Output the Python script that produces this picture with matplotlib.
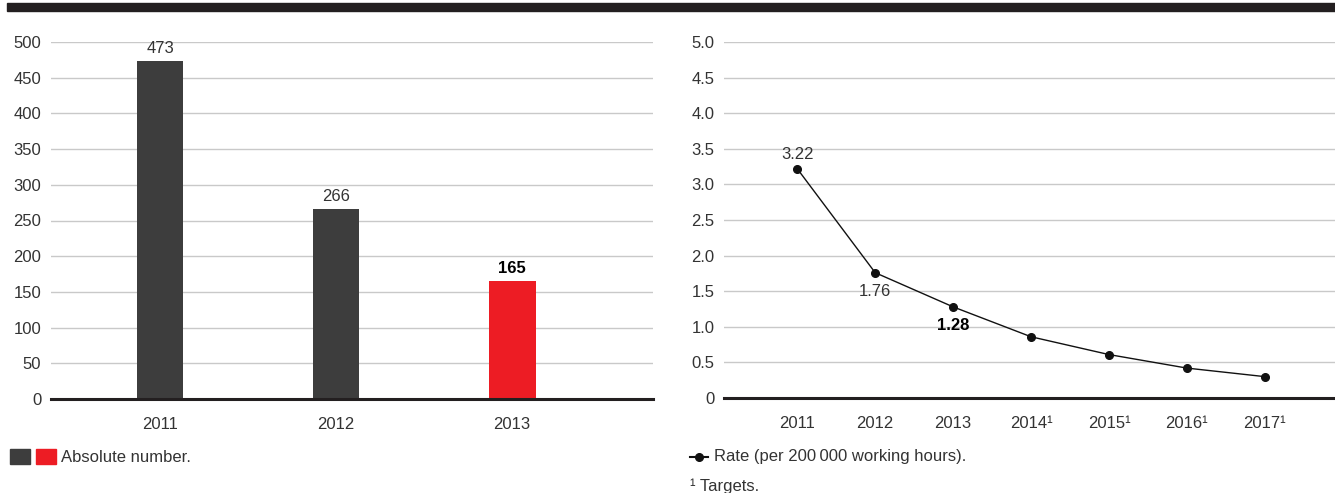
import matplotlib.pyplot as plt
from matplotlib.patches import Rectangle
from matplotlib.lines import Line2D

plt.rcParams['font.family'] = ['Liberation Sans', 'DejaVu Sans']

# injuries, absolute number
bar_years = ['2011', '2012', '2013']
bar_values = [473, 266, 165]
bar_colors = ['#3d3d3d', '#3d3d3d', '#ed1c24']

# rate per 200 000 working hours (2014-2017 are targets)
rate_years = ['2011', '2012', '2013', '2014¹', '2015¹', '2016¹', '2017¹']
rate_values = [3.22, 1.76, 1.28, 0.86, 0.61, 0.42, 0.30]

W, H = 1335, 493
fig = plt.figure(figsize=(W / 100, H / 100), dpi=100)

txt = '#333333'
grid_c = '#c9c9c9'
fs = 12

# heavy rule across the top
fig.patches.append(Rectangle((7 / W, 1 - 11 / H), 1 - 7 / W, 8 / H,
                             transform=fig.transFigure, color='#231f20', zorder=0))


def style(ax, yticks, ylabels):
    ax.set_yticks(yticks)
    ax.set_yticklabels(ylabels)
    ax.yaxis.grid(True, color=grid_c, lw=1)
    ax.set_axisbelow(True)
    for s in ['top', 'right', 'left']:
        ax.spines[s].set_visible(False)
    ax.spines['bottom'].set_color('#231f20')
    ax.spines['bottom'].set_linewidth(2.2)
    ax.tick_params(axis='both', length=0, labelsize=fs, colors=txt)
    ax.tick_params(axis='y', pad=7)
    ax.tick_params(axis='x', pad=13)


# left: bars
ax1 = fig.add_axes([51 / W, 1 - 399 / H, 602 / W, 357 / H])
xs = range(len(bar_years))
ax1.bar(xs, bar_values, width=0.265, color=bar_colors, zorder=2)
ax1.set_xlim(-0.62, 2.8)
ax1.set_ylim(0, 500)
ax1.set_xticks(list(xs))
ax1.set_xticklabels(bar_years)
style(ax1, range(0, 501, 50), [str(v) for v in range(0, 501, 50)])
for i, v in enumerate(bar_values):
    last = i == len(bar_values) - 1
    ax1.annotate(str(v), (i, v), xytext=(0, 4), textcoords='offset points',
                 ha='center', va='bottom', fontsize=fs, color='#000000' if last else txt,
                 fontweight='bold' if last else 'normal')

# right: rate line
ax2 = fig.add_axes([724 / W, 1 - 398 / H, 611 / W, 356 / H])
xr = range(len(rate_years))
ax2.plot(xr, rate_values, color='#111111', lw=1, marker='o', ms=5.5, zorder=3,
         clip_on=False)
ax2.set_xlim(-0.94, 6.9)
ax2.set_ylim(0, 5)
ax2.set_xticks(list(xr))
ax2.set_xticklabels(rate_years)
yt = [i * 0.5 for i in range(11)]
style(ax2, yt, ['0'] + ['%.1f' % v for v in yt[1:]])

ax2.annotate('%.2f' % rate_values[0], (0, rate_values[0]), xytext=(0, 5),
             textcoords='offset points', ha='center', va='bottom', fontsize=fs, color=txt)
ax2.annotate('%.2f' % rate_values[1], (1, rate_values[1]), xytext=(0, -8),
             textcoords='offset points', ha='center', va='top', fontsize=fs, color=txt)
ax2.annotate('%.2f' % rate_values[2], (2, rate_values[2]), xytext=(0, -8),
             textcoords='offset points', ha='center', va='top', fontsize=fs,
             color='#000000', fontweight='bold')

# legends
fig.patches.append(Rectangle((10 / W, 1 - 464 / H), 20 / W, 15 / H,
                             transform=fig.transFigure, color=bar_colors[0]))
fig.patches.append(Rectangle((36 / W, 1 - 464 / H), 20 / W, 15 / H,
                             transform=fig.transFigure, color=bar_colors[2]))
fig.text(61 / W, 1 - 457 / H, 'Absolute number.', fontsize=fs, color=txt, va='center')

fig.lines.append(Line2D([690 / W, 708 / W], [1 - 457 / H, 1 - 457 / H],
                        transform=fig.transFigure, color='#111111', lw=1.5))
fig.lines.append(Line2D([699 / W], [1 - 457 / H], transform=fig.transFigure,
                        marker='o', ms=5.5, color='#111111'))
fig.text(714 / W, 1 - 457 / H, 'Rate (per 200\u2009000 working hours).', fontsize=fs,
         color=txt, va='center')
fig.text(690 / W, 1 - 486 / H, '¹ Targets.', fontsize=fs, color=txt, va='center')

fig.savefig('out.png', dpi=100)
